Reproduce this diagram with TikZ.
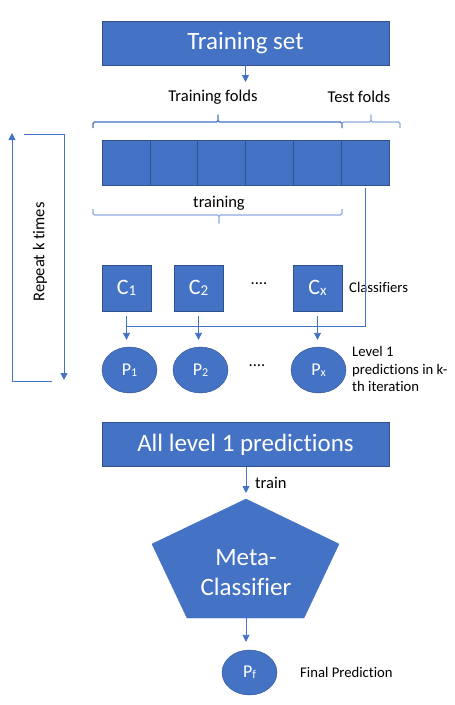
\documentclass[tikz,border=0pt]{standalone}
\usepackage{fontspec}
\setmainfont{Carlito}[Ligatures=CommonOff]
\usetikzlibrary{arrows.meta,shapes.geometric}

\definecolor{officeblue}{HTML}{4472C4}
\definecolor{edgeblue}{HTML}{2F528F}
\definecolor{paleblue}{HTML}{8FAADC}

\newcommand\lowsub[2]{\raisebox{-1pt}{\fontsize{#1}{#1}\selectfont #2}}

\tikzset{
	wide box/.style={draw=edgeblue, fill=officeblue, text=white, inner sep=0,
		minimum width=287, minimum height=44, font=\fontsize{25}{25}\selectfont},
	fold cell/.style={draw=edgeblue, fill=officeblue, inner sep=0,
		minimum width=47.83, minimum height=45},
	clf box/.style={draw=edgeblue, fill=officeblue, text=white, inner sep=0,
		minimum width=49, minimum height=46, font=\fontsize{22}{22}\selectfont},
	pred oval/.style={ellipse, draw=edgeblue, fill=officeblue, text=white, inner sep=0,
		minimum width=55, minimum height=46, font=\fontsize{18}{18}\selectfont},
	link/.style={draw=officeblue, line width=0.9},
	tip/.style={link, -{Triangle[length=7,width=7]}},
	fold brace/.style={draw=#1, line width=1.2, rounded corners=1.5},
	note/.style={inner sep=0, font=\fontsize{16.5}{16.5}\selectfont},
	side note/.style={inner sep=0, anchor=west, align=left, font=\fontsize{14.7}{17.5}\selectfont}
}

\begin{document}
\begin{tikzpicture}[x=1pt, y=-1pt]
	\useasboundingbox (0,0) rectangle (455,705);

	% training data and folds
	\node[wide box] (trainset) at (245.5,43) {Training set};
	\node[note] (trainfolds) at (213,97) {Training folds};
	\node[note] (testfolds) at (359,97) {Test folds};
	\coordinate (splitpt) at (245.5,82);
	\draw[tip] (trainset.south) -- (splitpt);
	\foreach \i in {1,...,6}
		\node[fold cell] (fold\i) at ({102+47.83*(\i-0.5)},162.5) {};
	\draw[fold brace=officeblue] (93,128) -- (93,122) -- (218,122) -- (218,113) -- (218,122) -- (342,122) -- (342,128);
	\draw[fold brace=paleblue] (342,128) -- (342,122) -- (371,122) -- (371,113) -- (371,122) -- (400,122) -- (400,128);
	\node[note] (trainword) at (219,203) {training};
	\draw[fold brace=paleblue] (93,209) -- (93,215) -- (219,215) -- (219,225) -- (219,215) -- (342,215) -- (342,209);

	% repeat loop
	\coordinate (loopA) at (52,381);
	\coordinate (loopB) at (12,133);
	\coordinate (loopC) at (24,134);
	\coordinate (loopD) at (64,380);
	\draw[tip] (loopA) -| (loopB);
	\draw[tip] (loopC) -| (loopD);
	\node[note, rotate=90] (repeat) at (40,252) {Repeat k times};

	% level 0 classifiers
	\node[clf box] (c1) at (126.5,288) {C\lowsub{15}{1}};
	\node[clf box] (c2) at (198.5,288) {C\lowsub{15}{2}};
	\node[clf box] (cx) at (317.5,288) {C\lowsub{15}{x}};
	\node[note] (cdots) at (259,284) {....};
	\node[side note] (clflabel) at (349,287) {Classifiers};

	% level 1 predictions
	\node[pred oval] (p1) at (129.5,370) {P\lowsub{12}{1}};
	\node[pred oval] (p2) at (200.5,370) {P\lowsub{12}{2}};
	\node[pred oval] (px) at (318.5,370) {P\lowsub{12}{x}};
	\node[note] (pdots) at (257,366) {....};
	\node[side note] (predlabel) at (352,369) {Level 1\\predictions in k-\\th iteration};

	\coordinate (joinleft) at (127,326);
	\draw[link] ([yshift=-3]fold6.south) |- (joinleft);
	\foreach \c/\p in {c1/p1, c2/p2, cx/px}
		\draw[tip, shorten <=5, shorten >=7] (\c.south) -- (\c.south |- \p.north);

	% meta level
	\node[wide box] (allpred) at (245.5,444.5) {All level 1 predictions};
	\coordinate (metatop) at (246,499);
	\coordinate (metabot) at (246,618);
	\filldraw[draw=officeblue, fill=officeblue] (metatop) -- (339,544) -- (304,618) -- (187,618) -- (152,544) -- cycle;
	\node[align=center, text=white, inner sep=0, font=\fontsize{25}{30}\selectfont] (meta) at (246,573) {Meta-\\Classifier};
	\draw[tip, shorten >=6] (allpred.south -| metatop) -- (metatop);
	\node[note, anchor=west] (trainlabel) at (255,483) {train};

	\node[pred oval, minimum height=45] (pf) at (249.5,672.5) {P\lowsub{12}{f}};
	\draw[tip, shorten >=8] (metabot) -- (metabot |- pf.north);
	\node[side note] (finallabel) at (300,672) {Final Prediction};
\end{tikzpicture}
\end{document}
